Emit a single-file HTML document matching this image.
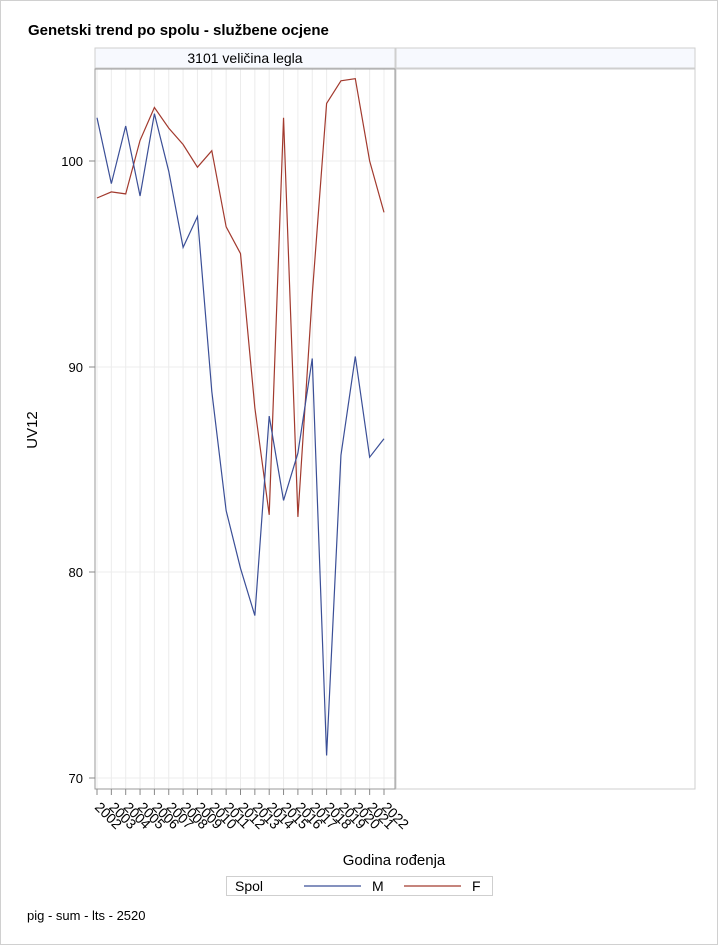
<!DOCTYPE html>
<html><head><meta charset="utf-8"><style>
body{margin:0;background:#fff;}
svg{display:block;font-family:"Liberation Sans",Arial,sans-serif;}
</style></head><body>
<svg width="718" height="945" viewBox="0 0 718 945">
<rect x="0.5" y="0.5" width="717" height="944" fill="#fff" stroke="#d0d0d0"/>
<text x="28" y="35" font-size="15" font-weight="bold" fill="#000">Genetski trend po spolu - službene ocjene</text>
<rect x="95" y="48" width="300" height="20" fill="#f7f9fe" stroke="#cfcfcf"/>
<rect x="396" y="48" width="299" height="20" fill="#f7f9fe" stroke="#cfcfcf"/>
<text x="245" y="63" font-size="14" text-anchor="middle" fill="#000">3101 veličina legla</text>
<rect x="396" y="69" width="299" height="720" fill="#fff" stroke="#cfcfcf"/>
<g stroke="#ececec" stroke-width="1">
<line x1="97" y1="69" x2="97" y2="789"/><line x1="111.35" y1="69" x2="111.35" y2="789"/><line x1="125.7" y1="69" x2="125.7" y2="789"/><line x1="140.05" y1="69" x2="140.05" y2="789"/><line x1="154.4" y1="69" x2="154.4" y2="789"/><line x1="168.75" y1="69" x2="168.75" y2="789"/><line x1="183.1" y1="69" x2="183.1" y2="789"/><line x1="197.45" y1="69" x2="197.45" y2="789"/><line x1="211.8" y1="69" x2="211.8" y2="789"/><line x1="226.15" y1="69" x2="226.15" y2="789"/><line x1="240.5" y1="69" x2="240.5" y2="789"/><line x1="254.85" y1="69" x2="254.85" y2="789"/><line x1="269.2" y1="69" x2="269.2" y2="789"/><line x1="283.55" y1="69" x2="283.55" y2="789"/><line x1="297.9" y1="69" x2="297.9" y2="789"/><line x1="312.25" y1="69" x2="312.25" y2="789"/><line x1="326.6" y1="69" x2="326.6" y2="789"/><line x1="340.95" y1="69" x2="340.95" y2="789"/><line x1="355.3" y1="69" x2="355.3" y2="789"/><line x1="369.65" y1="69" x2="369.65" y2="789"/><line x1="384" y1="69" x2="384" y2="789"/>
<line x1="95" y1="161" x2="395" y2="161"/><line x1="95" y1="367" x2="395" y2="367"/><line x1="95" y1="572" x2="395" y2="572"/><line x1="95" y1="778" x2="395" y2="778"/>
</g>
<rect x="95" y="69" width="300" height="720" fill="none" stroke="#9a9a9a"/>
<g stroke="#888"><line x1="89" y1="161" x2="95" y2="161"/><line x1="89" y1="367" x2="95" y2="367"/><line x1="89" y1="572" x2="95" y2="572"/><line x1="89" y1="778" x2="95" y2="778"/></g>
<g font-size="13" text-anchor="end" fill="#000"><text x="83" y="166">100</text><text x="83" y="372">90</text><text x="83" y="577">80</text><text x="83" y="783">70</text></g>
<text x="37" y="430" font-size="15" text-anchor="middle" transform="rotate(-90 37 430)">UV12</text>
<g stroke="#888">
<line x1="97" y1="789" x2="97" y2="795"/><line x1="111.35" y1="789" x2="111.35" y2="795"/><line x1="125.7" y1="789" x2="125.7" y2="795"/><line x1="140.05" y1="789" x2="140.05" y2="795"/><line x1="154.4" y1="789" x2="154.4" y2="795"/><line x1="168.75" y1="789" x2="168.75" y2="795"/><line x1="183.1" y1="789" x2="183.1" y2="795"/><line x1="197.45" y1="789" x2="197.45" y2="795"/><line x1="211.8" y1="789" x2="211.8" y2="795"/><line x1="226.15" y1="789" x2="226.15" y2="795"/><line x1="240.5" y1="789" x2="240.5" y2="795"/><line x1="254.85" y1="789" x2="254.85" y2="795"/><line x1="269.2" y1="789" x2="269.2" y2="795"/><line x1="283.55" y1="789" x2="283.55" y2="795"/><line x1="297.9" y1="789" x2="297.9" y2="795"/><line x1="312.25" y1="789" x2="312.25" y2="795"/><line x1="326.6" y1="789" x2="326.6" y2="795"/><line x1="340.95" y1="789" x2="340.95" y2="795"/><line x1="355.3" y1="789" x2="355.3" y2="795"/><line x1="369.65" y1="789" x2="369.65" y2="795"/><line x1="384" y1="789" x2="384" y2="795"/>
</g>
<g font-size="14" fill="#000">
<text transform="translate(94,808) rotate(45)">2002</text><text transform="translate(108.35,808) rotate(45)">2003</text><text transform="translate(122.7,808) rotate(45)">2004</text><text transform="translate(137.05,808) rotate(45)">2005</text><text transform="translate(151.4,808) rotate(45)">2006</text><text transform="translate(165.75,808) rotate(45)">2007</text><text transform="translate(180.1,808) rotate(45)">2008</text><text transform="translate(194.45,808) rotate(45)">2009</text><text transform="translate(208.8,808) rotate(45)">2010</text><text transform="translate(223.15,808) rotate(45)">2011</text><text transform="translate(237.5,808) rotate(45)">2012</text><text transform="translate(251.85,808) rotate(45)">2013</text><text transform="translate(266.2,808) rotate(45)">2014</text><text transform="translate(280.55,808) rotate(45)">2015</text><text transform="translate(294.9,808) rotate(45)">2016</text><text transform="translate(309.25,808) rotate(45)">2017</text><text transform="translate(323.6,808) rotate(45)">2018</text><text transform="translate(337.95,808) rotate(45)">2019</text><text transform="translate(352.3,808) rotate(45)">2020</text><text transform="translate(366.65,808) rotate(45)">2021</text><text transform="translate(381,808) rotate(45)">2022</text>
</g>
<text x="394" y="865" font-size="15" text-anchor="middle">Godina rođenja</text>
<polyline fill="none" stroke="#a23a2e" stroke-width="1.2" points="97,198 111.35,191.9 125.7,193.9 140.05,140.4 154.4,107.5 168.75,128.1 183.1,144.5 197.45,167.2 211.8,150.7 226.15,226.8 240.5,253.6 254.85,407.8 269.2,514.8 283.55,117.8 297.9,516.9 312.25,294.7 326.6,103.4 340.95,80.8 355.3,78.7 369.65,161 384,212.4"/>
<polyline fill="none" stroke="#3b4f97" stroke-width="1.2" points="97,117.8 111.35,183.6 125.7,126 140.05,196 154.4,113.7 168.75,171.3 183.1,247.4 197.45,216.5 211.8,391.4 226.15,510.7 240.5,568.3 254.85,615.6 269.2,416.1 283.55,500.4 297.9,453.1 312.25,358.5 326.6,755.5 340.95,455.2 355.3,356.4 369.65,457.2 384,438.7"/>
<rect x="226.5" y="876.5" width="266" height="19" fill="#fff" stroke="#cfcfcf"/>
<text x="235" y="891" font-size="14">Spol</text>
<line x1="304" y1="886" x2="361" y2="886" stroke="#3b4f97" stroke-width="1.2"/>
<text x="372" y="891" font-size="14">M</text>
<line x1="404" y1="886" x2="461" y2="886" stroke="#a23a2e" stroke-width="1.2"/>
<text x="472" y="891" font-size="14">F</text>
<text x="27" y="920" font-size="13">pig - sum - lts - 2520</text>
</svg>
</body></html>
